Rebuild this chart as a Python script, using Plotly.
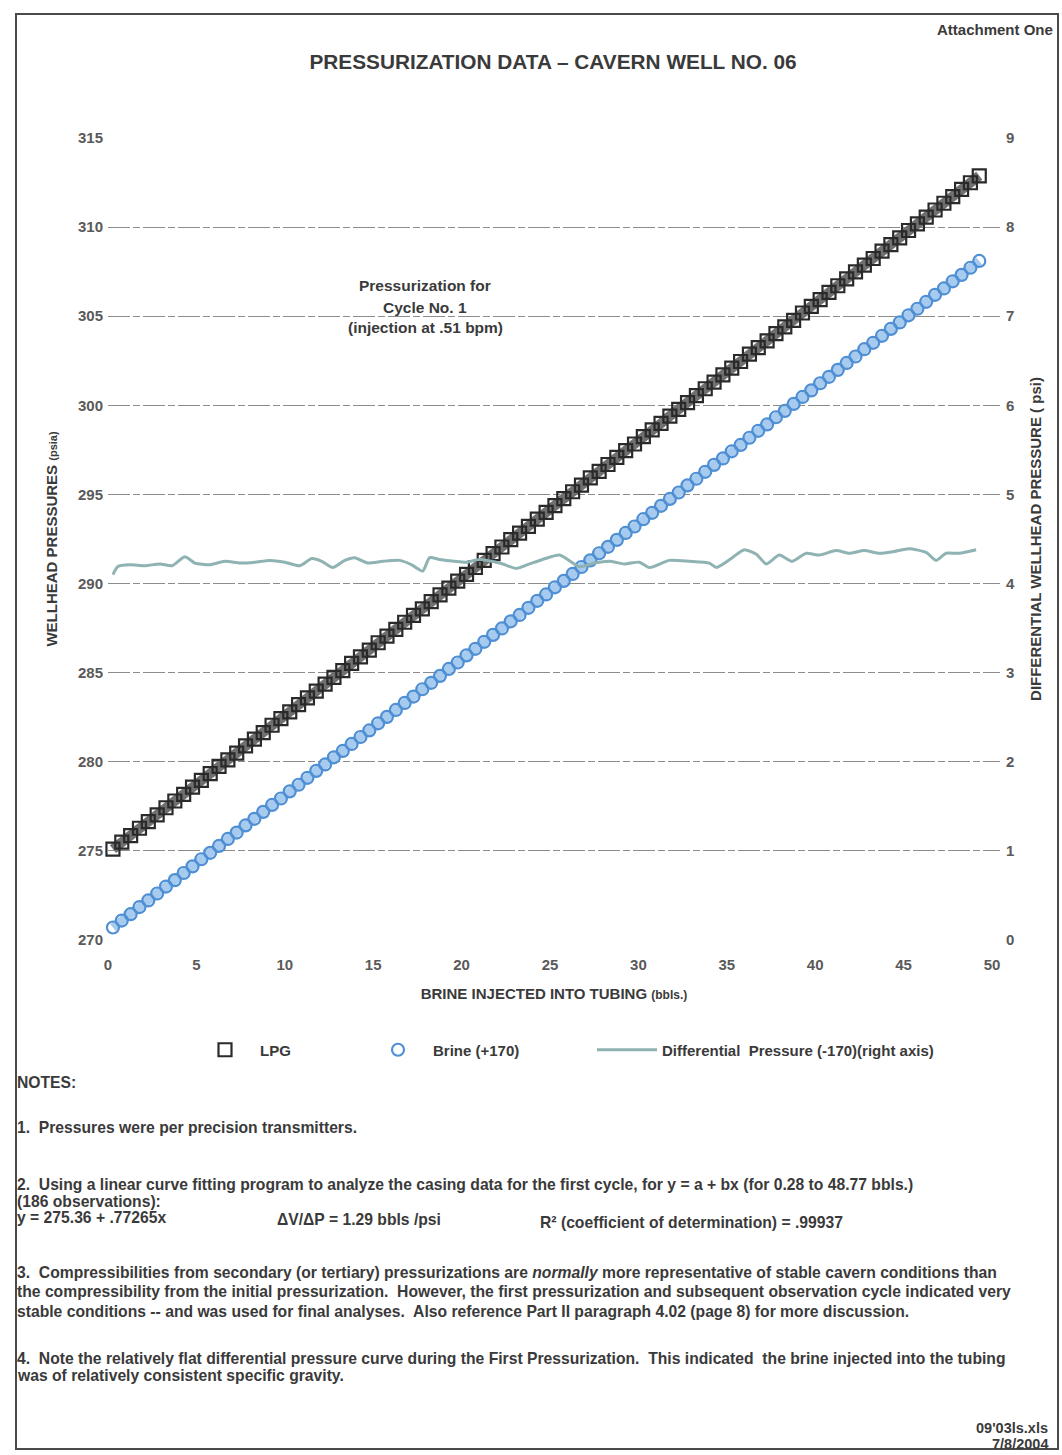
import plotly.graph_objects as go

# ---- readings: brine injected into tubing (bbls) vs wellhead pressures ----
bbls = [0.28, 0.78, 1.28, 1.78, 2.28, 2.78, 3.28, 3.78, 4.28, 4.78,
        5.28, 5.78, 6.28, 6.78, 7.28, 7.78, 8.28, 8.78, 9.28, 9.78,
        10.28, 10.78, 11.28, 11.78, 12.28, 12.78, 13.28, 13.78, 14.28, 14.78,
        15.28, 15.78, 16.28, 16.78, 17.28, 17.78, 18.28, 18.78, 19.28, 19.78,
        20.28, 20.78, 21.28, 21.78, 22.28, 22.78, 23.28, 23.78, 24.28, 24.78,
        25.28, 25.78, 26.28, 26.78, 27.28, 27.78, 28.28, 28.78, 29.28, 29.78,
        30.28, 30.78, 31.28, 31.78, 32.28, 32.78, 33.28, 33.78, 34.28, 34.78,
        35.28, 35.78, 36.28, 36.78, 37.28, 37.78, 38.28, 38.78, 39.28, 39.78,
        40.28, 40.78, 41.28, 41.78, 42.28, 42.78, 43.28, 43.78, 44.28, 44.78,
        45.28, 45.78, 46.28, 46.78, 47.28, 47.78, 48.28, 48.78, 49.28]

lpg_psia = [275.10, 275.49, 275.86, 276.27, 276.64, 277.02, 277.42, 277.80, 278.17, 278.58,
            278.96, 279.33, 279.74, 280.11, 280.49, 280.89, 281.27, 281.64, 282.05, 282.42,
            282.80, 283.21, 283.58, 283.96, 284.36, 284.74, 285.11, 285.52, 285.89, 286.27,
            286.68, 287.05, 287.43, 287.83, 288.21, 288.58, 288.99, 289.36, 289.74, 290.14,
            290.52, 290.90, 291.30, 291.68, 292.05, 292.46, 292.83, 293.21, 293.61, 293.99,
            294.37, 294.77, 295.15, 295.52, 295.93, 296.30, 296.68, 297.08, 297.46, 297.83,
            298.24, 298.62, 298.99, 299.40, 299.77, 300.15, 300.55, 300.93, 301.30, 301.71,
            302.09, 302.46, 302.87, 303.24, 303.62, 304.02, 304.40, 304.77, 305.18, 305.55,
            305.93, 306.34, 306.71, 307.09, 307.49, 307.87, 308.24, 308.65, 309.02, 309.40,
            309.81, 310.18, 310.56, 310.96, 311.34, 311.71, 312.12, 312.49, 312.88]

brine_plus170 = [270.70, 271.09, 271.45, 271.85, 272.22, 272.61, 273.00, 273.36, 273.76, 274.13,
                 274.53, 274.89, 275.28, 275.67, 276.03, 276.43, 276.80, 277.19, 277.58, 277.94,
                 278.34, 278.71, 279.10, 279.49, 279.85, 280.25, 280.61, 281.00, 281.39, 281.76,
                 282.16, 282.52, 282.91, 283.30, 283.66, 284.07, 284.43, 284.82, 285.21, 285.57,
                 285.97, 286.34, 286.73, 287.12, 287.48, 287.88, 288.24, 288.64, 289.03, 289.39,
                 289.79, 290.15, 290.54, 290.93, 291.30, 291.70, 292.06, 292.45, 292.84, 293.20,
                 293.61, 293.97, 294.36, 294.75, 295.11, 295.51, 295.88, 296.27, 296.66, 297.02,
                 297.42, 297.78, 298.18, 298.57, 298.93, 299.33, 299.69, 300.08, 300.47, 300.84,
                 301.24, 301.60, 301.99, 302.38, 302.74, 303.15, 303.51, 303.90, 304.29, 304.65,
                 305.05, 305.42, 305.81, 306.20, 306.56, 306.96, 307.32, 307.72, 308.10]

# ---- differential wellhead pressure (-170), right axis ----
diff_bbls = [0.28, 0.56, 1.24, 2.09, 2.94, 3.62, 4.35, 4.92, 5.76, 6.61,
             7.46, 8.31, 9.15, 10.00, 10.85, 11.53, 12.09, 12.71, 13.39, 13.95,
             14.69, 15.54, 16.50, 17.18, 17.80, 18.19, 18.76, 19.60, 20.28, 21.02,
             22.15, 23.11, 23.84, 24.58, 25.54, 26.67, 27.51, 28.36, 29.21, 30.06,
             30.62, 31.75, 32.88, 34.01, 34.41, 35.31, 35.99, 36.67, 37.23, 37.97,
             38.70, 39.49, 40.23, 41.19, 41.92, 42.77, 43.62, 44.46, 45.31, 46.27,
             46.84, 47.40, 48.14, 49.10]
diff_psi = [4.10, 4.19, 4.21, 4.20, 4.22, 4.20, 4.30, 4.23, 4.21, 4.25,
            4.23, 4.24, 4.26, 4.24, 4.20, 4.28, 4.25, 4.18, 4.26, 4.29,
            4.23, 4.25, 4.26, 4.21, 4.14, 4.29, 4.27, 4.25, 4.24, 4.27,
            4.23, 4.17, 4.22, 4.27, 4.32, 4.19, 4.23, 4.25, 4.22, 4.24,
            4.18, 4.26, 4.25, 4.23, 4.18, 4.29, 4.38, 4.33, 4.22, 4.32,
            4.25, 4.34, 4.32, 4.37, 4.34, 4.37, 4.34, 4.36, 4.39, 4.35,
            4.26, 4.34, 4.34, 4.38]

x_ticks = [0, 5, 10, 15, 20, 25, 30, 35, 40, 45, 50]
left_ticks = [270, 275, 280, 285, 290, 295, 300, 305, 310, 315]
right_ticks = [0, 1, 2, 3, 4, 5, 6, 7, 8, 9]

# ---- page geometry ----
W, H = 1062, 1455
L, R, T, B = 108, 1000, 138, 940   # plot box in page pixels

FONT = "Liberation Sans, Arial, sans-serif"
INK = "#3a3a3a"
TICK_INK = "#5a5a5a"
LPG_INK = "#2a2a2a"
BRINE_INK = "#4f8fd4"


def paper(px, py):
    return (px - L) / (R - L), (B - py) / (B - T)


fig = go.Figure()

fig.add_trace(go.Scatter(
    x=diff_bbls, y=diff_psi, yaxis="y2", mode="lines",
    name="Differential  Pressure (-170)(right axis)",
    line=dict(color="#8fb2b2", width=3, shape="spline", smoothing=0.6),
    legend="legend3",
))

# the overlapping observation markers form a solid band under each series
fig.add_trace(go.Scatter(
    x=bbls, y=brine_plus170, mode="lines", showlegend=False, hoverinfo="skip",
    line=dict(color="#a7cbef", width=9),
))
fig.add_trace(go.Scatter(
    x=bbls, y=brine_plus170, mode="markers", name="Brine (+170)",
    marker=dict(symbol="circle-open", size=12, color=BRINE_INK,
                line=dict(width=2.2, color=BRINE_INK)),
    cliponaxis=False, legend="legend2",
))
fig.add_trace(go.Scatter(
    x=bbls, y=lpg_psia, mode="lines", showlegend=False, hoverinfo="skip",
    line=dict(color="#707070", width=10),
))
fig.add_trace(go.Scatter(
    x=bbls, y=lpg_psia, mode="markers", name="LPG",
    marker=dict(symbol="square-open", size=13, color=LPG_INK,
                line=dict(width=2.2, color=LPG_INK)),
    cliponaxis=False, legend="legend",
))

tickfont = dict(family=FONT, size=15, color=TICK_INK, weight="bold")
titlefont = dict(family=FONT, size=15, color=INK, weight="bold")

fig.update_layout(
    width=W, height=H, autosize=False,
    margin=dict(l=L, r=W - R, t=T, b=H - B, pad=0),
    paper_bgcolor="white", plot_bgcolor="white",
    title=dict(text="PRESSURIZATION DATA \u2013 CAVERN WELL NO. 06",
               x=553 / W, xanchor="center", y=1 - 62 / H, yanchor="middle",
               font=dict(family=FONT, size=20.8, color=INK, weight="bold")),
    xaxis=dict(range=[0, (R - L) / 17.68], tickvals=x_ticks, showgrid=False,
               zeroline=False, showline=False, ticks="", ticklabelstandoff=14,
               tickfont=tickfont,
               title=dict(text="BRINE INJECTED INTO TUBING <span style='font-size:12px'>(bbls.)</span>",
                          font=titlefont, standoff=16)),
    yaxis=dict(range=[270, 315], tickvals=left_ticks, showgrid=True,
               gridcolor="#8c8c8c", gridwidth=1, griddash="22px,3px,7px,3px",
               zeroline=False, showline=False, ticks="", ticklabelstandoff=4,
               tickfont=tickfont,
               title=dict(text="WELLHEAD PRESSURES <span style='font-size:11px'>(psia)</span>",
                          font=titlefont, standoff=16)),
    yaxis2=dict(range=[0, 9], tickvals=right_ticks, overlaying="y", side="right",
                showgrid=False, zeroline=False, showline=False, ticks="",
                ticklabelstandoff=5, tickfont=tickfont,
                title=dict(text="DIFFERENTIAL WELLHEAD PRESSURE ( psi)",
                           font=titlefont, standoff=16)),
    showlegend=True,
)

legend_font = dict(family=FONT, size=15, color=INK, weight="bold")
ly = paper(0, 1050)[1]
for key, px_left in (("legend", 190), ("legend2", 363), ("legend3", 592)):
    fig.update_layout({key: dict(x=paper(px_left, 0)[0], y=ly, xanchor="left",
                                 yanchor="middle", orientation="h", itemwidth=60,
                                 bgcolor="rgba(0,0,0,0)", font=legend_font)})

annotations = []


def text_at(px, py, text, size=15.7, anchor="left"):
    x, y = paper(px, py)
    annotations.append(dict(x=x, y=y, xref="paper", yref="paper", text=text,
                            showarrow=False, xanchor=anchor, yanchor="middle",
                            align=anchor,
                            font=dict(family=FONT, size=size, color=INK, weight="bold")))


text_at(1055, 30, "Attachment One", 15, "right")

# cycle label inside the plot
text_at(425, 285, "Pressurization for", 15.5, "center")
text_at(425, 307, "Cycle No. 1", 15.5, "center")
text_at(425, 327, "(injection at .51 bpm)", 15.5, "center")

# notes block
text_at(15, 1082, "NOTES:")
text_at(15, 1127, "1.  Pressures were per precision transmitters.")
text_at(15, 1184, "2.  Using a linear curve fitting program to analyze the casing data for the first cycle, "
                  "for y = a + bx (for 0.28 to 48.77 bbls.)")
text_at(15, 1201, "(186 observations):")
text_at(15, 1217, "y = 275.36 + .77265x")
text_at(275, 1219, "\u0394V/\u0394P = 1.29 bbls /psi")
text_at(538, 1222, "R\u00b2 (coefficient of determination) = .99937")
text_at(15, 1272, "3.  Compressibilities from secondary (or tertiary) pressurizations are <i>normally</i> "
                  "more representative of stable cavern conditions than")
text_at(15, 1291, "the compressibility from the initial pressurization.  However, the first pressurization "
                  "and subsequent observation cycle indicated very")
text_at(15, 1311, "stable conditions -- and was used for final analyses.  Also reference Part II paragraph "
                  "4.02 (page 8) for more discussion.")
text_at(15, 1358, "4.  Note the relatively flat differential pressure curve during the First Pressurization.  "
                  "This indicated  the brine injected into the tubing")
text_at(15, 1375, "was of relatively consistent specific gravity.")
text_at(1050, 1428, "09'03ls.xls", 14.5, "right")
text_at(1050, 1444, "7/8/2004", 14.5, "right")

fig.update_layout(annotations=annotations)

# page frame
x0, y0 = paper(16, 1449)
x1, y1 = paper(1058, 14)
fig.add_shape(type="rect", xref="paper", yref="paper", x0=x0, y0=y0, x1=x1, y1=y1,
              line=dict(color="#4a4a4a", width=2), layer="below")

fig.write_html("out.html")
